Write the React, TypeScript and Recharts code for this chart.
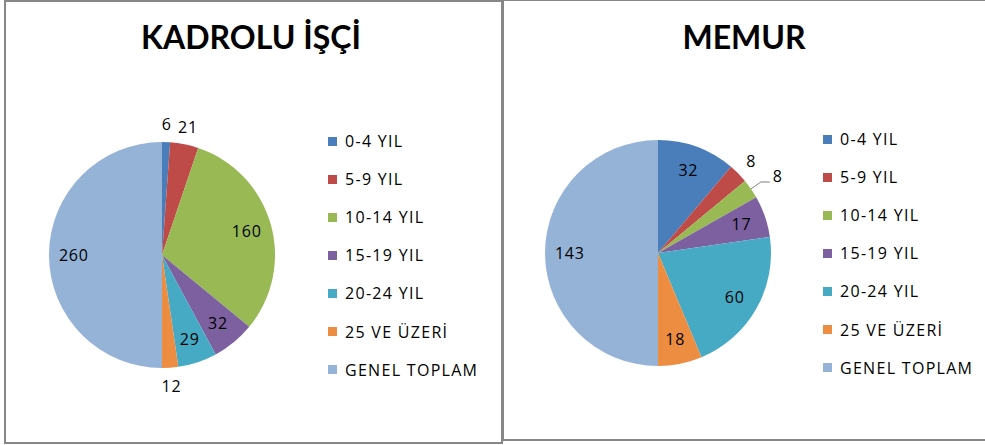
// Personel hizmet yılı dağılımı – iki pasta grafik
import { PieChart, Pie, Cell, Legend } from "recharts";

const categories = [
  "0-4 YIL",
  "5-9 YIL",
  "10-14 YIL",
  "15-19 YIL",
  "20-24 YIL",
  "25 VE ÜZERİ",
  "GENEL TOPLAM",
];
const kadroluIsci = [6, 21, 160, 32, 29, 12, 260];
const memur = [32, 8, 8, 17, 60, 18, 143];

const COLORS = ["#4A7EBB", "#BE4B48", "#98B954", "#7D60A0", "#46AAC5", "#EC8D42", "#95B3D7"];
const FONT = "'Open Sans', sans-serif";
const RAD = Math.PI / 180;
const R = 113;

function makeLabel(leaders: number[]) {
  return (p: any) => {
    const { cx, cy, midAngle, outerRadius, percent, index, value } = p;
    const cos = Math.cos(-midAngle * RAD);
    const sin = Math.sin(-midAngle * RAD);
    if (leaders.includes(index)) {
      const sx = cx + outerRadius * cos;
      const sy = cy + outerRadius * sin;
      const ex = cx + (outerRadius + 12) * cos;
      const ey = cy + (outerRadius + 12) * sin;
      return (
        <g>
          <polyline
            points={`${sx},${sy} ${ex},${ey} ${ex + 9},${ey}`}
            fill="none"
            stroke="#7f7f7f"
            strokeWidth={1}
          />
          <text x={ex + 12} y={ey - 6} fill="#000" fontSize={16} fontFamily={FONT} dominantBaseline="central">
            {value}
          </text>
        </g>
      );
    }
    const r = percent < 0.05 ? outerRadius + 18 : outerRadius * 0.78;
    return (
      <text
        x={cx + r * cos}
        y={cy + r * sin}
        fill="#000"
        fontSize={16}
        fontFamily={FONT}
        letterSpacing={0.8}
        textAnchor="middle"
        dominantBaseline="central"
      >
        {value}
      </text>
    );
  };
}

function LegendList() {
  return (
    <div style={{ fontFamily: FONT, fontSize: 16, letterSpacing: 1.3, color: "#000" }}>
      {categories.map((name, i) => (
        <div key={name} style={{ height: 38.1, display: "flex", alignItems: "center" }}>
          <span style={{ width: 9, height: 9, background: COLORS[i], display: "inline-block", marginRight: 8 }} />
          <span>{name}</span>
        </div>
      ))}
    </div>
  );
}

function PiePanel({
  title,
  values,
  left,
  width,
  cx,
  cy,
  legendLeft,
  legendTop,
  leaders,
}: {
  title: string;
  values: number[];
  left: number;
  width: number;
  cx: number;
  cy: number;
  legendLeft: number;
  legendTop: number;
  leaders: number[];
}) {
  const data = categories.map((name, i) => ({ name, value: values[i] }));
  return (
    <div style={{ position: "absolute", left, top: 0, width, height: 445 }}>
      <div
        style={{
          position: "absolute",
          left: 0,
          top: 17,
          width: "100%",
          textAlign: "center",
          fontFamily: "Lato, sans-serif",
          fontWeight: 700,
          fontSize: 32,
          color: "#000",
        }}
      >
        {title}
      </div>
      <PieChart
        width={width}
        height={445}
        margin={{ top: 0, right: 0, bottom: 0, left: 0 }}
        style={{ position: "absolute", left: 0, top: 0 }}
      >
        <Pie
          data={data}
          dataKey="value"
          nameKey="name"
          cx={cx}
          cy={cy}
          outerRadius={R}
          startAngle={90}
          endAngle={-270}
          stroke="none"
          label={makeLabel(leaders)}
          labelLine={false}
          isAnimationActive={false}
        >
          {data.map((_, i) => (
            <Cell key={i} fill={COLORS[i]} />
          ))}
        </Pie>
        <Legend
          layout="vertical"
          content={<LegendList />}
          wrapperStyle={{ left: legendLeft, top: legendTop, width: 175 }}
        />
      </PieChart>
    </div>
  );
}

export default function App() {
  return (
    <div style={{ position: "absolute", left: 0, top: 0, width: 985, height: 445, background: "#fff", overflow: "hidden" }}>
      <div style={{ position: "absolute", left: 4, top: 0, width: 495, height: 440, border: "2px solid #878787" }} />
      <div style={{ position: "absolute", left: 502, top: -1, width: 500, height: 438, border: "2px solid #878787" }} />
      <PiePanel
        title="KADROLU İŞÇİ"
        values={kadroluIsci}
        left={0}
        width={502}
        cx={162}
        cy={255}
        legendLeft={328}
        legendTop={122}
        leaders={[]}
      />
      <PiePanel
        title="MEMUR"
        values={memur}
        left={503}
        width={482}
        cx={155}
        cy={253}
        legendLeft={320}
        legendTop={120}
        leaders={[2]}
      />
    </div>
  );
}
